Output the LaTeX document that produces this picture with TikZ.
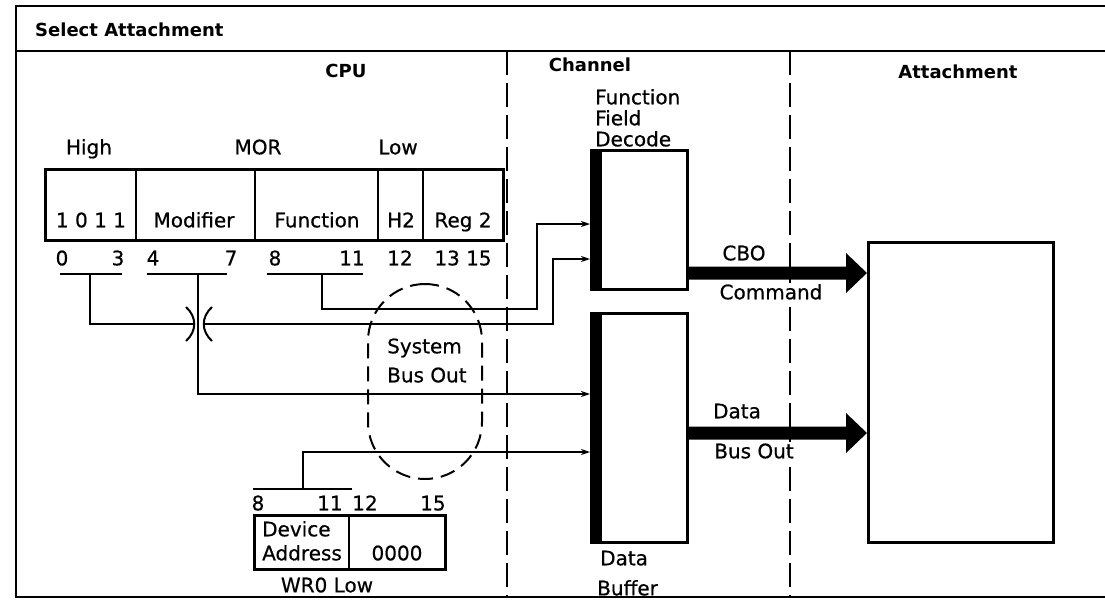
\documentclass[tikz,border=0pt]{standalone}
\usepackage{fontspec}
\setmainfont{DejaVu Sans}
\newfontfamily\labelfont{DejaVu Sans}[FakeBold=0.6]
\usetikzlibrary{arrows.meta,calc}
\begin{document}
\begin{tikzpicture}[x=1pt,y=-1pt,
  lbl/.style={inner sep=0pt,text height=14.6pt,text depth=0pt,font=\labelfont\fontsize{20}{22}\selectfont},
  hd/.style={inner sep=0pt,text height=13.1pt,text depth=0pt,font=\fontsize{18}{20}\selectfont\bfseries},
  wlbl/.style={lbl,fill=white,inner xsep=1pt,inner ysep=2pt},
  box/.style={draw,line width=2.5pt,inner sep=0pt},
  frame/.style={line width=2pt},
  wire/.style={line width=2pt},
  sig/.style={wire,-{Stealth[length=9pt,width=6pt]}},
  divider/.style={line width=2.5pt,dash pattern=on 24pt off 8pt},
  ring/.style={draw,line width=2pt,dash pattern=on 15pt off 8pt,rounded corners=57pt,
    minimum width=114pt,minimum height=195pt,inner sep=0pt},
]
\useasboundingbox (0,0) rectangle (1105,600);
% frame
\draw[frame] (1105,6) -- (16,6) -- (16,597) -- (1105,597);
\draw[frame] (16,51) -- (1105,51);
\node[hd,anchor=west] (title) at (35,30) {Select Attachment};
% dividers
\draw[divider] (507,51) -- (507,597);
\draw[divider] (790,51) -- (790,597);
% headings
\node[hd] (cpu) at (346,71) {CPU};
\node[hd] (chan) at (590,65) {Channel};
\node[hd] (attl) at (958,72) {Attachment};

% MOR register
\node[lbl] (high) at (89,147) {High};
\node[lbl] (morl) at (258,147) {MOR};
\node[lbl] (low) at (398,147) {Low};
\node[box,anchor=north west,minimum width=458pt,minimum height=71pt] (mor) at (44,168) {};
\draw[line width=2pt] (136,168) -- (136,239) (255,168) -- (255,239) (378,168) -- (378,239) (423,168) -- (423,239);
\node[lbl] (f1) at (91,220) {1 0 1 1};
\node[lbl] (f2) at (194,220) {Modifier};
\node[lbl] (f3) at (317,220) {Function};
\node[lbl] (f4) at (401,220) {H2};
\node[lbl] (f5) at (463,220) {Reg 2};
\node[lbl] (n0) at (62,258) {0};
\node[lbl] (n3) at (118,258) {3};
\node[lbl] (n4) at (153,258) {4};
\node[lbl] (n7) at (231,258) {7};
\node[lbl] (n8) at (275,258) {8};
\node[lbl] (n11) at (352,258) {11};
\node[lbl] (n12) at (400,258) {12};
\node[lbl] (n13) at (463,258) {13 15};
\draw[wire] (60,274) -- (122,274) (147,274) -- (227,274) (267,274) -- (363,274);
\coordinate (b0) at (90,274);
\coordinate (b4) at (198,274);
\coordinate (b8) at (322,274);

% System Bus Out ring
\node[ring] (sbo) at (425,381.5) {};
\node[lbl,anchor=west] (sys1) at (387,346) {System};
\node[lbl,anchor=west] (sys2) at (387,375) {Bus Out};

% WR0 Low register
\node[lbl] (m8) at (258,503) {8};
\node[lbl] (m11) at (330,503) {11};
\node[lbl] (m12) at (365,503) {12};
\node[lbl] (m15) at (433,503) {15};
\draw[wire] (253,489) -- (352,489);
\coordinate (w8) at (303,489);
\node[box,anchor=north west,minimum width=191pt,minimum height=54pt] (wr0) at (253,514) {};
\draw[line width=2pt] (349,514) -- (349,568);
\node[lbl,anchor=west] (dev1) at (262,529) {Device};
\node[lbl,anchor=west] (dev2) at (262,553) {Address};
\node[lbl] (zero) at (397,553) {0000};
\node[lbl] (wr0l) at (327,585) {WR0 Low};

% Channel boxes
\node[lbl,anchor=west] (ffd1) at (595,97) {Function};
\node[lbl,anchor=west] (ffd2) at (595,118) {Field};
\node[lbl,anchor=west] (ffd3) at (595,139) {Decode};
\node[box,anchor=north west,minimum width=96pt,minimum height=139pt] (ffd) at (590,149) {};
\fill (ffd.north west) rectangle ($(ffd.south west)+(12,0)$);
\node[box,anchor=north west,minimum width=96pt,minimum height=229pt] (dbuf) at (590,312) {};
\fill (dbuf.north west) rectangle ($(dbuf.south west)+(12,0)$);
\node[lbl,anchor=west] (db1) at (600,558) {Data};
\node[lbl,anchor=west] (db2) at (597,588) {Buffer};

% Attachment box
\node[box,anchor=north west,minimum width=185pt,minimum height=300pt] (att) at (867,241) {};

% connectors from MOR / WR0 to channel
\coordinate (hopL) at (193.75,324);
\coordinate (hopR) at (204.25,324);
\draw[wire] (b0) |- (hopL);
\draw[wire] (186,307) .. controls (197,317) and (197,331) .. (186,341);
\draw[wire] (212,307) .. controls (201,317) and (201,331) .. (212,341);
\draw[sig] (hopR) -- (553,324) |- ($(ffd.north west)+(0,110)$);
\draw[sig] (b8) |- (537,309) |- ($(ffd.north west)+(0,75)$);
\draw[sig] (b4) |- ($(dbuf.north west)+(0,82)$);
\draw[sig] (w8) |- ($(dbuf.north west)+(0,140)$);

% bus arrows to attachment
\fill ($(ffd.north east)+(0,117.5)$) -- ($(att.north west)+(-21,25.5)$) -- ($(att.north west)+(-21,12)$)
  -- ($(att.north west)+(0,32)$) -- ($(att.north west)+(-21,52)$) -- ($(att.north west)+(-21,38.5)$)
  -- ($(ffd.north east)+(0,130.5)$) -- cycle;
\fill ($(dbuf.north east)+(0,114.5)$) -- ($(att.north west)+(-21,185.5)$) -- ($(att.north west)+(-21,172)$)
  -- ($(att.north west)+(0,192)$) -- ($(att.north west)+(-21,212)$) -- ($(att.north west)+(-21,198.5)$)
  -- ($(dbuf.north east)+(0,127.5)$) -- cycle;
\node[wlbl] (cbo) at (744,253) {CBO};
\node[wlbl] (cmd) at (771,292) {Command};
\node[wlbl] (dat) at (737,411) {Data};
\node[wlbl] (bout) at (754,451) {Bus Out};
\end{tikzpicture}
\end{document}
